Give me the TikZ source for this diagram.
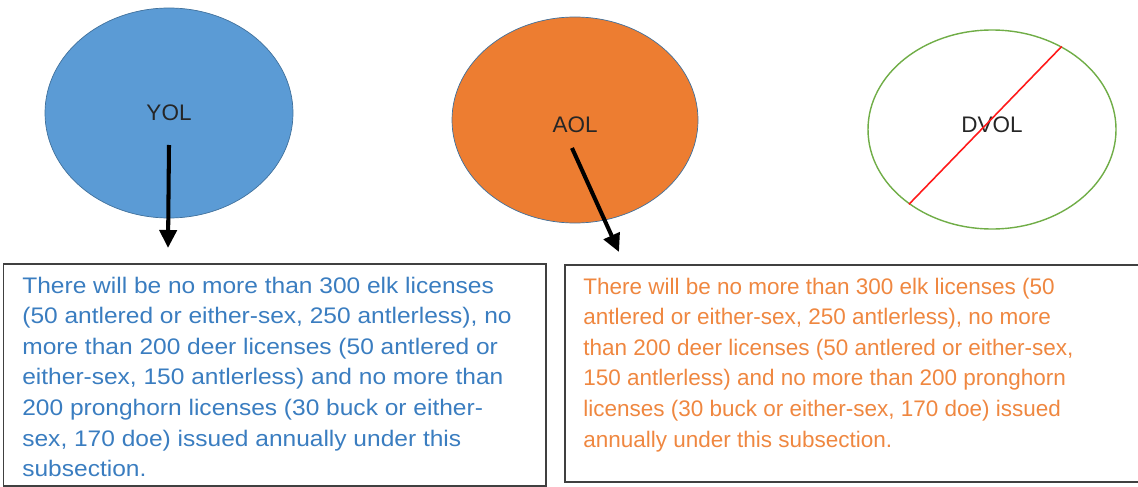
\documentclass[tikz,border=0pt]{standalone}
\usepackage{fontspec}
\setmainfont{Liberation Sans}
\newfontfamily\widesans[FakeStretch=1.09]{Liberation Sans}
\usetikzlibrary{shapes.geometric,arrows.meta}
\definecolor{yolfill}{HTML}{5B9BD5}
\definecolor{aolfill}{HTML}{ED7D31}
\definecolor{ovaledge}{HTML}{41719C}
\definecolor{dvoledge}{HTML}{70AD47}
\definecolor{yoltext}{HTML}{3A7DC0}
\definecolor{aoltext}{HTML}{EF8740}

\begin{document}
\begin{tikzpicture}[
    oval/.style={ellipse,draw,inner sep=0pt,font=\fontsize{12.8}{15}\selectfont,text=black!85},
    bigarrow/.style={line width=2.3pt,-{Triangle[length=3.6mm,width=3.4mm]}},
    licbox/.style={rectangle,draw=black!75,line width=1pt,anchor=north west,inner sep=0pt},
    lictext/.style={anchor=north west,align=left,inner sep=0pt,font=\fontsize{12.8}{17.4}\selectfont}]
    \useasboundingbox (0,0) rectangle (22.76,9.72);
    \node at (3.38,7.46) [oval,fill=yolfill,draw=ovaledge,minimum width=4.96cm,minimum height=4.2cm] (yol) {YOL};
    \node at (11.5,7.32) [oval,fill=aolfill,draw=ovaledge,minimum width=4.92cm,minimum height=4.12cm,text height=0.52cm] (aol) {AOL};
    \node at (19.84,7.13) [oval,draw=dvoledge,line width=0.8pt,minimum width=4.96cm,minimum height=3.98cm,text depth=0.2cm] (dvol) {DVOL};
    \draw[red!90!white,line width=0.9pt] (dvol.222) -- (dvol.50);
    \coordinate (yoltip) at (3.36,4.76);
    \draw[bigarrow] ([yshift=-0.64cm]yol.center) -- (yoltip);
    \coordinate (aoltip) at (12.38,4.68);
    \draw[bigarrow] ([shift={(-0.06,-0.56)}]aol.center) -- (aoltip);
    \node at (0.05,4.46) [licbox,minimum width=10.85cm,minimum height=4.44cm] (yolbox) {};
    \node at ([shift={(0.39,-0.27)}]yolbox.north west) [lictext,text=yoltext,font={\widesans\fontsize{12.8}{17.4}\selectfont}] (yolnote) {There will be no more than 300 elk licenses\\
      (50 antlered or either-sex, 250 antlerless), no\\
      more than 200 deer licenses (50 antlered or\\
      either-sex, 150 antlerless) and no more than\\
      200 pronghorn licenses (30 buck or either-\\
      sex, 170 doe) issued annually under this\\
      subsection.};
    \node at (11.28,4.44) [licbox,minimum width=11.8cm,minimum height=4.34cm] (aolbox) {};
    \node at ([shift={(0.38,-0.27)}]aolbox.north west) [lictext,text=aoltext] (aolnote) {There will be no more than 300 elk licenses (50\\
      antlered or either-sex, 250 antlerless), no more\\
      than 200 deer licenses (50 antlered or either-sex,\\
      150 antlerless) and no more than 200 pronghorn\\
      licenses (30 buck or either-sex, 170 doe) issued\\
      annually under this subsection.};
\end{tikzpicture}
\end{document}
